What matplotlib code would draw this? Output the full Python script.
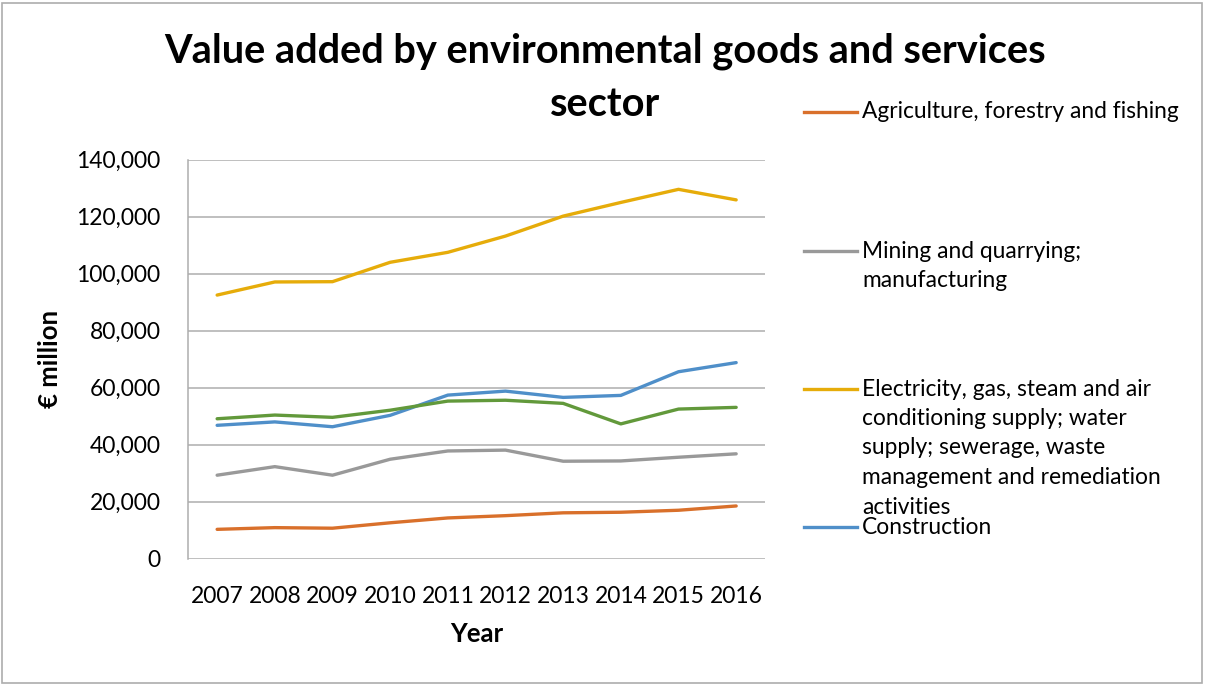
import matplotlib
matplotlib.use("Agg")
import matplotlib.pyplot as plt
from matplotlib.lines import Line2D
from matplotlib.patches import Rectangle
from matplotlib.ticker import FuncFormatter

plt.rcParams['font.family'] = ['Lato', 'DejaVu Sans']

years = [2007, 2008, 2009, 2010, 2011, 2012, 2013, 2014, 2015, 2016]

agriculture = [10300, 10900, 10700, 12600, 14300, 15100, 16100, 16300, 17000, 18500]
mining_manuf = [29300, 32300, 29300, 34900, 37800, 38100, 34200, 34300, 35600, 36800]
utilities = [92500, 97100, 97200, 104000, 107500, 113200, 120200, 125000, 129600, 125900]
construction = [46800, 48000, 46300, 50300, 57400, 58800, 56600, 57300, 65600, 68800]
services = [49100, 50400, 49600, 52100, 55300, 55600, 54500, 47300, 52500, 53100]

series = [agriculture, mining_manuf, utilities, construction, services]
colors = ['#D9702B', '#999999', '#E6AC0A', '#4F8FC9', '#62993B']

# legend text as wrapped in the chart
legend_lines = [
    ["Agriculture, forestry and fishing"],
    ["Mining and quarrying;", "manufacturing"],
    ["Electricity, gas, steam and air", "conditioning supply; water",
     "supply; sewerage, waste", "management and remediation", "activities"],
    ["Construction"],
]

W, H = 1205, 686
fig = plt.figure(figsize=(W / 100, H / 100), dpi=100)
fig.patches.append(Rectangle((1.5 / W, 3.5 / H), (W - 5) / W, (H - 6) / H,
                             transform=fig.transFigure, fill=False,
                             edgecolor='#ADADAD', linewidth=1.2))

ax = fig.add_axes([188.3 / W, 1 - 558.7 / H, 576.7 / W, 399 / H])

x = list(range(len(years)))
for vals, c in zip(series, colors):
    ax.plot(x, vals, color=c, linewidth=2.4, solid_capstyle='round')

ax.set_xlim(-0.5, len(years) - 0.5)
ax.set_ylim(0, 140000)
ax.set_yticks(range(0, 140001, 20000))
ax.yaxis.set_major_formatter(FuncFormatter(lambda v, p: f"{int(v):,}"))
ax.set_xticks(x)
ax.set_xticklabels([str(y) for y in years])
ax.tick_params(axis='both', length=0, labelsize=16.5, colors='black')
ax.tick_params(axis='x', pad=20)
ax.tick_params(axis='y', pad=20)

ax.grid(axis='y', color='#ADADAD', linewidth=1.1)
ax.set_axisbelow(True)
for s in ['top', 'right', 'bottom']:
    ax.spines[s].set_visible(False)
ax.spines['left'].set_color('#ADADAD')
ax.spines['left'].set_linewidth(1.1)

ax.set_xlabel("Year", fontsize=18.5, fontweight='bold')
ax.xaxis.set_label_coords(0.5, (558.7 - 622) / 399)
ax.set_ylabel("€ million", fontsize=18.5, fontweight='bold')
ax.yaxis.set_label_coords((62 - 188.3) / 576.7, 0.5)

fig.text(605 / W, 1 - 51 / H, "Value added by environmental goods and services",
         ha='center', va='center', fontsize=28.6, fontweight='bold')
fig.text(605 / W, 1 - 104 / H, "sector",
         ha='center', va='center', fontsize=28.6, fontweight='bold')

# legend drawn by hand, entries spread down the right side
entry_y = [112, 251, 389, 527]
for lines, c, y0 in zip(legend_lines, colors, entry_y):
    fig.add_artist(Line2D([804 / W, 857 / W], [1 - y0 / H, 1 - y0 / H],
                          color=c, linewidth=2.4, transform=fig.transFigure))
    for i, t in enumerate(lines):
        fig.text(862 / W, 1 - (y0 + 29.5 * i) / H, t, ha='left', va='center',
                 fontsize=16.4)

fig.savefig("out.png", dpi=100)
